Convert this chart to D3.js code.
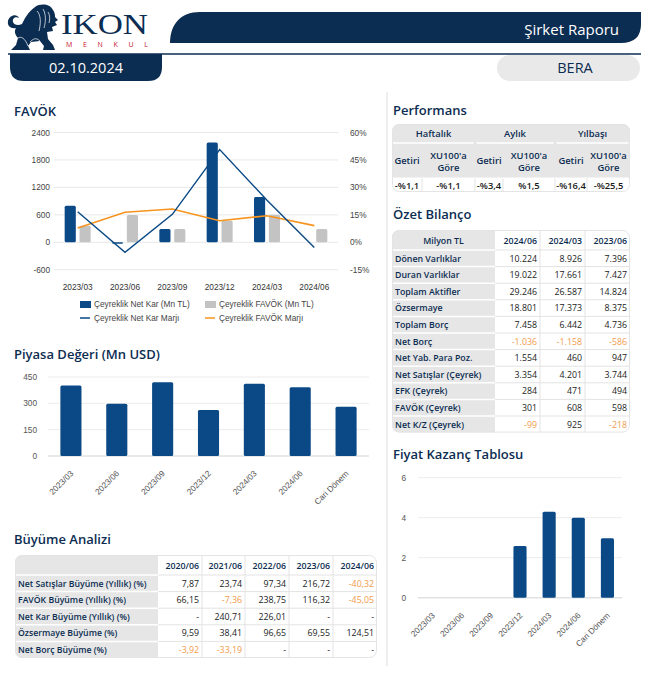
<!DOCTYPE html>
<html><head><meta charset="utf-8">
<script src="https://cdn.jsdelivr.net/npm/d3@7"></script>
<style>
body{margin:0;background:#fff;}
svg{display:block;font-family:"Open Sans",sans-serif;}
</style></head><body>
<svg id="c" width="645" height="674"></svg>
<script>
// ---------- DATA ----------
const reportTitle = "Şirket Raporu";
const reportDate = "02.10.2024";
const ticker = "BERA";

const favokCats = ["2023/03","2023/06","2023/09","2023/12","2024/03","2024/06"];
const netKar = [800, -30, 290, 2180, 990, 0];
const favokVals = [360, 598, 290, 470, 600, 290];
const netKarMarj = [16.7, -5.5, 15.3, 50.7, 23.0, -2.9];
const favokMarj = [7.8, 16.4, 18.2, 11.8, 14.5, 9.1];
const favokLeftTicks = [-600, 0, 600, 1200, 1800, 2400];
const favokRightTicks = [-15, 0, 15, 30, 45, 60];
const favokLegend = ["Çeyreklik Net Kar (Mn TL)", "Çeyreklik FAVÖK (Mn TL)", "Çeyreklik Net Kar Marjı", "Çeyreklik FAVÖK Marjı"];

const mcCats = ["2023/03","2023/06","2023/09","2023/12","2024/03","2024/06","Cari Dönem"];
const marketCap = [401, 297, 420, 262, 411, 392, 281];
const mcTicks = [0, 150, 300, 450];

const peCats = ["2023/03","2023/06","2023/09","2023/12","2024/03","2024/06","Cari Dönem"];
const peVals = [null, null, null, 2.58, 4.3, 4.0, 2.97];
const peTicks = [0, 2, 4, 6];

const growthCols = ["2020/06","2021/06","2022/06","2023/06","2024/06"];
const growthRows = ["Net Satışlar Büyüme (Yıllık) (%)","FAVÖK Büyüme (Yıllık) (%)","Net Kar Büyüme (Yıllık) (%)","Özsermaye Büyüme (%)","Net Borç Büyüme (%)"];
const growthVals = [
  ["7,87","23,74","97,34","216,72","-40,32"],
  ["66,15","-7,36","238,75","116,32","-45,05"],
  ["-","240,71","226,01","-","-"],
  ["9,59","38,41","96,65","69,55","124,51"],
  ["-3,92","-33,19","-","-","-"]
];

const perfGroups = ["Haftalık","Aylık","Yılbaşı"];
const perfSub = ["Getiri","XU100'a Göre"];
const perfVals = ["-%1,1","-%1,1","-%3,4","%1,5","-%16,4","-%25,5"];

const balCols = ["2024/06","2024/03","2023/06"];
const balRows = ["Dönen Varlıklar","Duran Varlıklar","Toplam Aktifler","Özsermaye","Toplam Borç","Net Borç","Net Yab. Para Poz.","Net Satışlar (Çeyrek)","EFK (Çeyrek)","FAVÖK (Çeyrek)","Net K/Z (Çeyrek)"];
const balVals = [
  [10224, 8926, 7396],
  [19022, 17661, 7427],
  [29246, 26587, 14824],
  [18801, 17373, 8375],
  [7458, 6442, 4736],
  [-1036, -1158, -586],
  [1554, 460, 947],
  [3354, 4201, 3744],
  [284, 471, 494],
  [301, 608, 598],
  [-99, 925, -218]
];

// ---------- STYLE ----------
const NAVY = "#0a4985", DARK = "#0c2d52", ORANGE = "#f7941d", GRAYBAR = "#c3c3c3";
const CELLGRAY = "#e6e6e6", LINE = "#e3e3e3", NEG = "#f29a4a";
const AXISFONT = "'Liberation Sans', Arial, sans-serif";

const svg = d3.select("#c");

// ---------- HEADER ----------
const logo = svg.append("g");
logo.append("path").attr("fill", DARK).attr("d",
  "M35 7 C41 3 50 4 53 10 C55 13 55 15 55 17 L58 20 L55 22 L57 25 L52 27 L53 31 L47 32 L48 39 L53 45 L55 50 L43 50 L44 46 L40 41 L31 42 L28 46 L30 50 L11 50 L16 45 L18 38 C15 35 14 31 16 28 C11 29 7 26 8 21 C9 15 17 13 19 18 C16 16 12 18 13 22 C14 25 18 26 22 24 C25 18 28 12 35 7 Z");
logo.append("path").attr("fill","none").attr("stroke","#fff").attr("stroke-width",0.7)
  .attr("d","M37 11 C41 15 41 23 39 31 M43 9 C46 14 46 21 44 28 M48 12 C50 15 50 19 49 23 M30 42 C33 39 36 37 40 41 M18 38 C21 36 25 38 28 46");
logo.append("text").attr("x", 61).attr("y", 34).attr("font-family", "'Liberation Serif', 'DejaVu Serif', serif")
  .attr("font-size", 29).attr("fill", DARK).attr("textLength", 87).attr("lengthAdjust","spacingAndGlyphs").text("IKON");
logo.append("text").attr("x", 66).attr("y", 46.5).attr("font-size", 7).attr("fill", "#c8102e")
  .attr("textLength", 82).attr("lengthAdjust","spacing").text("MENKUL");

svg.append("path").attr("fill", DARK)
  .attr("d", "M170 43 C170 25 180 12 200 12 L641 12 L641 24 Q641 43 621 43 Z");
svg.append("text").attr("x", 619).attr("y", 34.5).attr("text-anchor","end").attr("fill","#fff")
  .attr("font-size", 15).text(reportTitle);
svg.append("line").attr("x1", 8).attr("x2", 641).attr("y1", 54).attr("y2", 54).attr("stroke", DARK).attr("stroke-width", 1.5);
svg.append("path").attr("fill", DARK)
  .attr("d", "M10 54 L162 54 L162 67 Q162 81 148 81 L24 81 Q10 81 10 67 Z");
svg.append("text").attr("x", 86).attr("y", 73).attr("text-anchor","middle").attr("fill","#fff")
  .attr("font-size", 14.5).text(reportDate);
svg.append("rect").attr("x", 497).attr("y", 55).attr("width", 143).attr("height", 26).attr("rx", 13).attr("fill", "#e9e9e9");
svg.append("text").attr("x", 575).attr("y", 73).attr("text-anchor","middle").attr("fill", DARK)
  .attr("font-size", 14.5).text(ticker);

// separator
svg.append("line").attr("x1", 387).attr("x2", 387).attr("y1", 92).attr("y2", 666).attr("stroke", "#dddddd");

// titles
function title(t, x, y) {
  svg.append("text").attr("x", x).attr("y", y).attr("fill", DARK).attr("font-size", 13)
    .attr("font-weight", 600).text(t);
}
title("FAVÖK", 14, 116);
title("Piyasa Değeri (Mn USD)", 14, 359);
title("Büyüme Analizi", 14, 544);
title("Performans", 393, 114.5);
title("Özet Bilanço", 393, 219);
title("Fiyat Kazanç Tablosu", 393, 459);

// ---------- FAVÖK CHART ----------
{
  const g = svg.append("g");
  const x = d3.scaleBand().domain(favokCats).range([54, 338]);
  const inner = d3.scaleBand().domain(["n","f"]).range([-13, 13]).paddingInner(0.25);
  const yL = d3.scaleLinear().domain([-600, 2400]).range([269.75, 132.5]);
  const yR = d3.scaleLinear().domain([-15, 60]).range([269.75, 132.5]);
  g.selectAll(".gl").data(favokLeftTicks).join("line")
    .attr("x1", 54).attr("x2", 338).attr("y1", d => yL(d)).attr("y2", d => yL(d))
    .attr("stroke", "#e8e8e8").attr("stroke-width", 1);
  g.selectAll(".tl").data(favokLeftTicks).join("text")
    .attr("x", 50).attr("y", d => yL(d) + 3).attr("text-anchor", "end")
    .attr("font-family", AXISFONT).attr("font-size", 8.3).attr("fill", "#444").text(d => d);
  g.selectAll(".tr").data(favokRightTicks).join("text")
    .attr("x", 350).attr("y", d => yR(d) + 3)
    .attr("font-family", AXISFONT).attr("font-size", 8.3).attr("fill", "#444").text(d => d + "%");
  g.selectAll(".tx").data(favokCats).join("text")
    .attr("x", d => x(d) + x.bandwidth() / 2).attr("y", 290).attr("text-anchor", "middle")
    .attr("font-family", AXISFONT).attr("font-size", 8.3).attr("fill", "#333").text(d => d);
  const bx = c => x(c) + x.bandwidth() / 2;
  g.selectAll(".bn").data(favokCats).join("rect")
    .attr("x", (c) => bx(c) + inner("n")).attr("width", inner.bandwidth())
    .attr("y", (c, i) => yL(Math.max(0, netKar[i])))
    .attr("height", (c, i) => Math.abs(yL(netKar[i]) - yL(0)))
    .attr("rx", 1.5).attr("fill", NAVY);
  g.selectAll(".bf").data(favokCats).join("rect")
    .attr("x", (c) => bx(c) + inner("f")).attr("width", inner.bandwidth())
    .attr("y", (c, i) => yL(Math.max(0, favokVals[i])))
    .attr("height", (c, i) => Math.abs(yL(favokVals[i]) - yL(0)))
    .attr("rx", 1.5).attr("fill", GRAYBAR);
  const lineN = d3.line().x((d, i) => bx(favokCats[i])).y(d => yR(d));
  g.append("path").attr("d", lineN(favokMarj)).attr("fill", "none").attr("stroke", ORANGE).attr("stroke-width", 1.6);
  g.append("path").attr("d", lineN(netKarMarj)).attr("fill", "none").attr("stroke", NAVY).attr("stroke-width", 1.4);
  // legend
  const lg = g.append("g").attr("font-family", AXISFONT).attr("font-size", 8.3).attr("fill", "#444");
  const lx = [80, 205], ly = [304, 318];
  lg.append("rect").attr("x", lx[0]).attr("y", ly[0] - 3).attr("width", 11).attr("height", 7).attr("fill", NAVY);
  lg.append("rect").attr("x", lx[1]).attr("y", ly[0] - 3).attr("width", 11).attr("height", 7).attr("fill", GRAYBAR);
  lg.append("line").attr("x1", lx[0]).attr("x2", lx[0] + 10).attr("y1", ly[1]).attr("y2", ly[1]).attr("stroke", NAVY).attr("stroke-width", 1.5);
  lg.append("line").attr("x1", lx[1]).attr("x2", lx[1] + 10).attr("y1", ly[1]).attr("y2", ly[1]).attr("stroke", ORANGE).attr("stroke-width", 1.5);
  lg.append("text").attr("x", lx[0] + 14).attr("y", ly[0] + 3).text(favokLegend[0]);
  lg.append("text").attr("x", lx[1] + 14).attr("y", ly[0] + 3).text(favokLegend[1]);
  lg.append("text").attr("x", lx[0] + 14).attr("y", ly[1] + 3).text(favokLegend[2]);
  lg.append("text").attr("x", lx[1] + 14).attr("y", ly[1] + 3).text(favokLegend[3]);
}

// ---------- simple bar chart ----------
function barChart(cats, vals, ticks, o) {
  const g = svg.append("g");
  const x = d3.scaleBand().domain(cats).range([o.x0, o.x1]).paddingInner(o.pad).paddingOuter(o.pad / 2);
  const y = d3.scaleLinear().domain([ticks[0], ticks[ticks.length - 1]]).range([o.y0, o.y1]);
  g.selectAll(".gl").data(ticks).join("line")
    .attr("x1", o.x0).attr("x2", o.x1).attr("y1", d => y(d)).attr("y2", d => y(d))
    .attr("stroke", d => d === 0 ? "#e2e2e2" : "#ececec").attr("stroke-width", d => d === 0 ? 1.5 : 1);
  g.selectAll(".tl").data(ticks).join("text")
    .attr("x", o.lx).attr("y", d => y(d) + 3).attr("text-anchor", "end")
    .attr("font-family", AXISFONT).attr("font-size", 8.3).attr("fill", "#555").text(d => d);
  g.selectAll(".b").data(cats.map((c, i) => ({c, v: vals[i]})).filter(d => d.v != null)).join("rect")
    .attr("x", d => x(d.c)).attr("width", x.bandwidth())
    .attr("y", d => y(d.v)).attr("height", d => y(0) - y(d.v)).attr("rx", 1.5).attr("fill", NAVY);
  g.selectAll(".xl").data(cats).join("text")
    .attr("transform", d => `translate(${x(d) + x.bandwidth() / 2 + 3},${o.ly}) rotate(-45)`)
    .attr("text-anchor", "end").attr("font-family", AXISFONT).attr("font-size", 8.3).attr("fill", "#555").text(d => d);
}
barChart(mcCats, marketCap, mcTicks, {x0: 48, x1: 369, y0: 456, y1: 377, pad: 0.54, lx: 37, ly: 474});
barChart(peCats, peVals, peTicks, {x0: 418, x1: 622, y0: 597.7, y1: 477.7, pad: 0.55, lx: 406, ly: 616});

// ---------- table helper ----------
function frame(id, x, y, w, h) {
  svg.append("clipPath").attr("id", id).append("rect").attr("x", x).attr("y", y).attr("width", w).attr("height", h).attr("rx", 7);
  const g = svg.append("g").attr("clip-path", `url(#${id})`);
  g.append("rect").attr("x", x).attr("y", y).attr("width", w).attr("height", h).attr("fill", "#fff");
  return g;
}
function border(x, y, w, h) {
  svg.append("rect").attr("x", x + 0.5).attr("y", y + 0.5).attr("width", w - 1).attr("height", h - 1).attr("rx", 7)
    .attr("fill", "none").attr("stroke", "#e4e4e4");
}

// ---------- Büyüme Analizi ----------
{
  const edges = [15, 158, 202, 245, 289, 333, 377];
  const top = 555, hh = 20, rh = 16.6, n = growthRows.length;
  const bottom = top + hh + rh * n;
  const g = frame("cg", edges[0], top, edges[6] - edges[0], bottom - top);
  g.append("rect").attr("x", edges[0]).attr("y", top).attr("width", edges[1] - edges[0]).attr("height", bottom - top).attr("fill", CELLGRAY);
  for (let i = 0; i < n; i++) {
    const yy = top + hh + rh * i;
    g.append("line").attr("x1", edges[0]).attr("x2", edges[1]).attr("y1", yy).attr("y2", yy).attr("stroke", "#fff").attr("stroke-width", 1.5);
    g.append("line").attr("x1", edges[1]).attr("x2", edges[6]).attr("y1", yy).attr("y2", yy).attr("stroke", LINE);
  }
  for (let j = 2; j < 6; j++) g.append("line").attr("x1", edges[j]).attr("x2", edges[j]).attr("y1", top).attr("y2", bottom).attr("stroke", LINE);
  border(edges[0], top, edges[6] - edges[0], bottom - top);
  growthCols.forEach((c, j) => svg.append("text").attr("x", edges[j + 2] - 3).attr("y", top + 13.5).attr("text-anchor", "end")
    .attr("font-size", 8.8).attr("font-weight", 600).attr("fill", DARK).text(c));
  growthRows.forEach((r, i) => {
    const yy = top + hh + rh * i + 11.5;
    svg.append("text").attr("x", 18).attr("y", yy).attr("font-size", 8.7).attr("font-weight", 600).attr("fill", DARK).text(r);
    growthVals[i].forEach((v, j) => svg.append("text").attr("x", edges[j + 2] - 3).attr("y", yy).attr("text-anchor", "end")
      .attr("font-size", 8.8).attr("fill", v.length > 1 && v[0] === "-" ? NEG : "#222").text(v));
  });
}

// ---------- Performans ----------
{
  const edges = [392, 422, 475, 503, 555, 587, 630];
  const r0 = 124, r1 = 143, r2 = 178, r3 = 192;
  const FS = 9.4;
  const g = frame("cp", edges[0], r0, edges[6] - edges[0], r3 - r0);
  g.append("rect").attr("x", edges[0]).attr("y", r0).attr("width", edges[6] - edges[0]).attr("height", r2 - r0).attr("fill", CELLGRAY);
  [[0, 2], [2, 4], [4, 6]].forEach(([a, b]) => g.append("line").attr("x1", edges[a] + (a ? 1.5 : 0)).attr("x2", edges[b] - 1.5)
    .attr("y1", r1).attr("y2", r1).attr("stroke", "#fff").attr("stroke-width", 1.5));
  for (let j = 1; j < 6; j++) g.append("line").attr("x1", edges[j]).attr("x2", edges[j]).attr("y1", r2).attr("y2", r3).attr("stroke", LINE);
  g.append("line").attr("x1", edges[0]).attr("x2", edges[6]).attr("y1", r2).attr("y2", r2).attr("stroke", "#fff");
  border(edges[0], r0, edges[6] - edges[0], r3 - r0);
  perfGroups.forEach((t, k) => svg.append("text").attr("x", (edges[2 * k] + edges[2 * k + 2]) / 2).attr("y", r0 + 13)
    .attr("text-anchor", "middle").attr("font-size", FS).attr("font-weight", 600).attr("fill", DARK).text(t));
  for (let j = 0; j < 6; j++) {
    const cx = (edges[j] + edges[j + 1]) / 2;
    if (j % 2 === 0) {
      svg.append("text").attr("x", cx).attr("y", (r1 + r2) / 2 + 3.5).attr("text-anchor", "middle")
        .attr("font-size", FS).attr("font-weight", 600).attr("fill", DARK).text(perfSub[0]);
    } else {
      const parts = perfSub[1].split(" ");
      svg.append("text").attr("x", cx).attr("y", (r1 + r2) / 2 - 2).attr("text-anchor", "middle")
        .attr("font-size", FS).attr("font-weight", 600).attr("fill", DARK).text(parts[0]);
      svg.append("text").attr("x", cx).attr("y", (r1 + r2) / 2 + 10).attr("text-anchor", "middle")
        .attr("font-size", FS).attr("font-weight", 600).attr("fill", DARK).text(parts[1]);
    }
    svg.append("text").attr("x", cx).attr("y", r2 + 10.8).attr("text-anchor", "middle")
      .attr("font-size", FS).attr("font-weight", 600).attr("fill", "#1a1a1a").text(perfVals[j]);
  }
}

// ---------- Özet Bilanço ----------
{
  const fmt = d3.formatLocale({decimal: ",", thousands: ".", grouping: [3], currency: ["", ""], minus: "-"}).format(",d");
  const edges = [392, 495, 540, 585, 630];
  const top = 230, hh = 20, rh = 16.6, n = balRows.length;
  const bottom = top + hh + rh * n;
  const g = frame("cb", edges[0], top, edges[4] - edges[0], bottom - top);
  g.append("rect").attr("x", edges[0]).attr("y", top).attr("width", edges[1] - edges[0]).attr("height", bottom - top).attr("fill", CELLGRAY);
  for (let i = 0; i < n; i++) {
    const yy = top + hh + rh * i;
    g.append("line").attr("x1", edges[0]).attr("x2", edges[1]).attr("y1", yy).attr("y2", yy).attr("stroke", "#fff").attr("stroke-width", 1.5);
    g.append("line").attr("x1", edges[1]).attr("x2", edges[4]).attr("y1", yy).attr("y2", yy).attr("stroke", LINE);
  }
  for (let j = 2; j < 4; j++) g.append("line").attr("x1", edges[j]).attr("x2", edges[j]).attr("y1", top).attr("y2", bottom).attr("stroke", LINE);
  border(edges[0], top, edges[4] - edges[0], bottom - top);
  svg.append("text").attr("x", (edges[0] + edges[1]) / 2).attr("y", top + 13.5).attr("text-anchor", "middle")
    .attr("font-size", 8.8).attr("font-weight", 600).attr("fill", DARK).text("Milyon TL");
  balCols.forEach((c, j) => svg.append("text").attr("x", edges[j + 2] - 3).attr("y", top + 13.5).attr("text-anchor", "end")
    .attr("font-size", 8.8).attr("font-weight", 600).attr("fill", DARK).text(c));
  balRows.forEach((r, i) => {
    const yy = top + hh + rh * i + 11.5;
    svg.append("text").attr("x", 395).attr("y", yy).attr("font-size", 8.8).attr("font-weight", 600).attr("fill", DARK).text(r);
    balVals[i].forEach((v, j) => svg.append("text").attr("x", edges[j + 2] - 3).attr("y", yy).attr("text-anchor", "end")
      .attr("font-size", 8.8).attr("fill", v < 0 ? NEG : "#222").text(fmt(v)));
  });
}
</script>
</body></html>
